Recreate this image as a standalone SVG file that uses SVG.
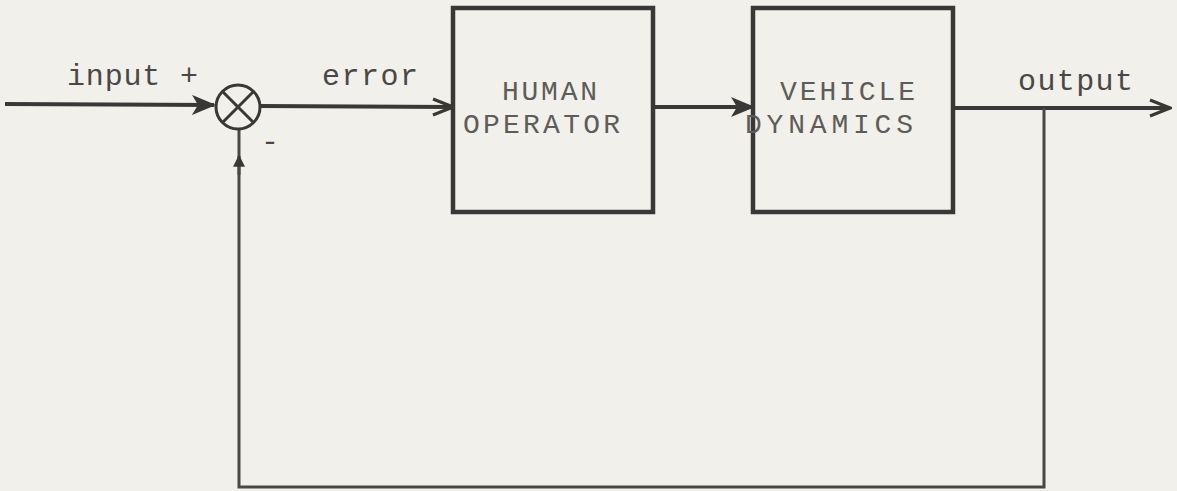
<svg xmlns="http://www.w3.org/2000/svg" width="1177" height="491" viewBox="0 0 1177 491">
<style>
.bg{fill:#f2f0ea}
.box{fill:none;stroke:#3a3836;stroke-width:4.5}
.ln{fill:none;stroke:#3a3836;stroke-width:4}
.fb{fill:none;stroke:#4a4846;stroke-width:3}
.sum{fill:none;stroke:#3a3836;stroke-width:3}
.t{font-family:"Liberation Mono","Courier New",monospace;font-size:28px;fill:#5e5c5a}
.lbl{font-family:"Liberation Mono","Courier New",monospace;font-size:30px;fill:#4a4846}
</style>
<defs>
<marker id="arF" viewBox="0 0 12 10" refX="11" refY="5" markerWidth="6" markerHeight="5" markerUnits="strokeWidth" orient="auto">
<path d="M0,0 L12,5 L0,10 L3,5 Z" fill="#3a3836"/>
</marker>
<marker id="arO" viewBox="0 0 12 10" refX="11" refY="5" markerWidth="6" markerHeight="5" markerUnits="strokeWidth" orient="auto">
<path d="M1,1 L11,5 L1,9" fill="none" stroke="#3a3836" stroke-width="1.6"/>
</marker>
<marker id="arS" viewBox="0 0 10 10" refX="9" refY="5" markerWidth="4" markerHeight="4" markerUnits="strokeWidth" orient="auto">
<path d="M0,0 L10,5 L0,10 Z" fill="#3a3836"/>
</marker>
</defs>
<rect class="bg" x="0" y="0" width="1177" height="491"/>

<g id="connectors">
<line class="ln" x1="5" y1="104" x2="214" y2="105" marker-end="url(#arF)"/>
<line class="ln" x1="260" y1="106" x2="453" y2="107" marker-end="url(#arO)"/>
<line class="ln" x1="653" y1="107" x2="753" y2="107" marker-end="url(#arF)"/>
<line class="ln" x1="953" y1="108" x2="1170" y2="108" marker-end="url(#arO)"/>
<polyline class="fb" points="1044,108 1044,487 239,487 239,128"/>
<line class="fb" x1="239" y1="175" x2="239" y2="156" marker-end="url(#arS)"/>
</g>

<g id="sum">
<circle class="sum" cx="238" cy="107" r="22"/>
<line class="sum" x1="222.5" y1="91.5" x2="253.5" y2="122.5"/>
<line class="sum" x1="253.5" y1="91.5" x2="222.5" y2="122.5"/>
<text class="lbl" x="261" y="151" textLength="17">-</text>
</g>

<g id="human">
<rect class="box" x="453" y="8" width="200" height="204"/>
<text class="t" x="502" y="100" textLength="95">HUMAN</text>
<text class="t" x="463" y="133" textLength="157">OPERATOR</text>
</g>

<g id="vehicle">
<rect class="box" x="753" y="8" width="200" height="204"/>
<text class="t" x="780" y="100" textLength="135">VEHICLE</text>
<text class="t" x="745" y="133" textLength="168">DYNAMICS</text>
</g>

<g id="labels">
<text class="lbl" x="67" y="85" textLength="131">input +</text>
<text class="lbl" x="322" y="85" textLength="96">error</text>
<text class="lbl" x="1018" y="90" textLength="115">output</text>
</g>
</svg>
